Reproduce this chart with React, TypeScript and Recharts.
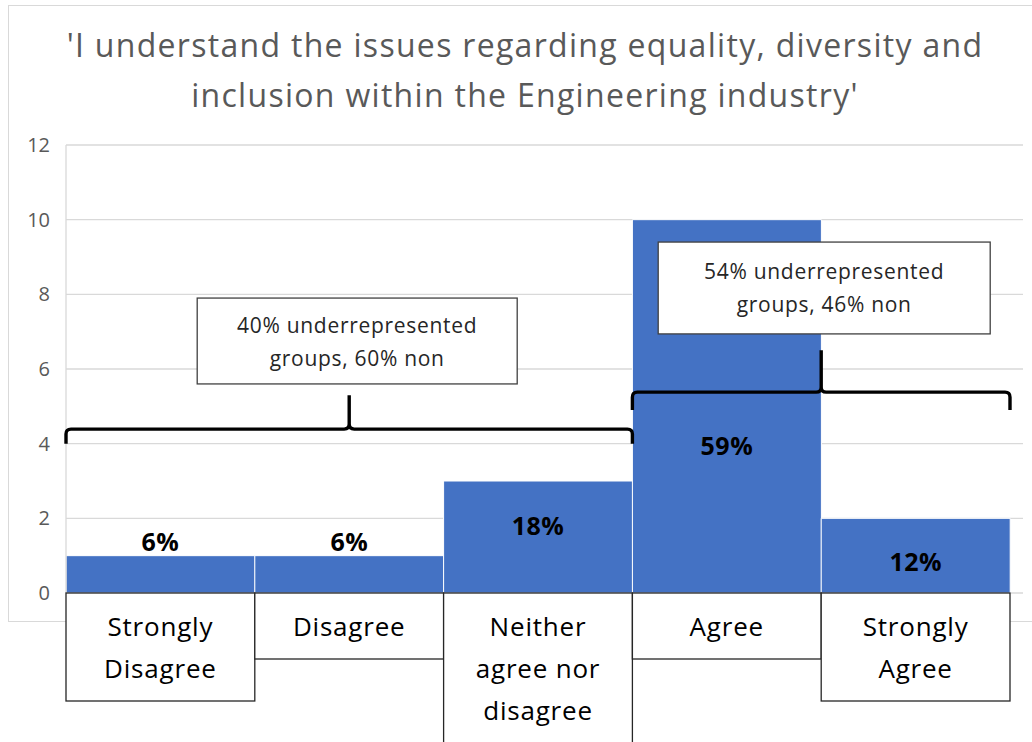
import React from 'react';
import { BarChart, Bar, XAxis, YAxis, CartesianGrid, ReferenceArea, LabelList } from 'recharts';

const categories = [
  'Strongly Disagree',
  'Disagree',
  'Neither agree nor disagree',
  'Agree',
  'Strongly Agree',
];
const categoryLines = [
  ['Strongly', 'Disagree'],
  ['Disagree'],
  ['Neither', 'agree nor', 'disagree'],
  ['Agree'],
  ['Strongly', 'Agree'],
];
const counts = [1, 1, 3, 10, 2];
const percentLabels = ['6%', '6%', '18%', '59%', '12%'];
const yTicks = [0, 2, 4, 6, 8, 10, 12];

const titleLines = [
  "'I understand the issues regarding equality, diversity and",
  "inclusion within the Engineering industry'",
];

const groupNotes = [
  ['40% underrepresented', 'groups, 60% non'],
  ['54% underrepresented', 'groups, 46% non'],
];
const groupFrom = ['Strongly Disagree', 'Agree'];
const groupTo = ['Neither agree nor disagree', 'Strongly Agree'];
// brace spans (value units): [low, high]
const braceLow = [4.0, 4.9];
const braceHigh = [5.3, 6.5];
// note boxes (value units)
const noteLow = [5.6, 6.94];
const noteHigh = [7.9, 9.4];

const data = categories.map((cat, i) => ({ cat, value: counts[i], label: percentLabels[i] }));

const FONT = "'Open Sans', 'Noto Sans', sans-serif";
const BAR_COLOR = '#4472C4';
const LABEL_DY = [-15, -15, 44, 225, 43];
const NOTE_W = [320, 332];
const NOTE_DX = [8, 3];

const Brace = (p: any) => {
  const { x, y, width, height } = p;
  const bottom = y + height;
  const hy = bottom - height * 0.3;
  const cx = x + width / 2;
  const r = 5;
  const d = [
    `M ${x} ${bottom}`,
    `L ${x} ${hy + r}`,
    `Q ${x} ${hy} ${x + r} ${hy}`,
    `L ${cx - r} ${hy}`,
    `Q ${cx} ${hy} ${cx} ${hy - r}`,
    `L ${cx} ${y}`,
    `M ${cx} ${hy - r}`,
    `Q ${cx} ${hy} ${cx + r} ${hy}`,
    `L ${x + width - r} ${hy}`,
    `Q ${x + width} ${hy} ${x + width} ${hy + r}`,
    `L ${x + width} ${bottom}`,
  ].join(' ');
  return <path d={d} fill="none" stroke="#000" strokeWidth={3.4} strokeLinejoin="round" />;
};

const makeNote = (idx: number) => (p: any) => {
  const { x, y, width, height } = p;
  const w = NOTE_W[idx];
  const cx = x + width / 2 + NOTE_DX[idx];
  const cy = y + height / 2;
  const lines = groupNotes[idx];
  return (
    <g>
      <rect x={cx - w / 2} y={y} width={w} height={height} fill="#fff" stroke="#404040" strokeWidth={1.3} />
      {lines.map((t, i) => (
        <text
          key={i}
          x={cx}
          y={cy + (i - (lines.length - 1) / 2) * 33}
          textAnchor="middle"
          dominantBaseline="central"
          fill="#262626"
          style={{ fontFamily: FONT, fontSize: 21, letterSpacing: 0.7 }}
        >
          {t}
        </text>
      ))}
    </g>
  );
};

const makeCatBox = (idx: number) => (p: any) => {
  const { x, y, width } = p;
  const lines = categoryLines[idx];
  const h = 24 + 42 * lines.length;
  return (
    <g>
      <rect x={x} y={y} width={width} height={h} fill="#fff" stroke="#262626" strokeWidth={1.3} />
      {lines.map((t, i) => (
        <text
          key={i}
          x={x + width / 2}
          y={y + 33 + 42 * i}
          textAnchor="middle"
          dominantBaseline="central"
          fill="#000"
          style={{ fontFamily: FONT, fontSize: 26, letterSpacing: 0.8 }}
        >
          {t}
        </text>
      ))}
    </g>
  );
};

const renderPct = (p: any) => {
  const { x, y, width, index, value } = p;
  return (
    <text
      x={x + width / 2}
      y={y + LABEL_DY[index]}
      textAnchor="middle"
      dominantBaseline="central"
      fill="#000"
      style={{ fontFamily: FONT, fontSize: 25, fontWeight: 700, letterSpacing: 0.5 }}
    >
      {value}
    </text>
  );
};

export default function App() {
  return (
    <div style={{ position: 'fixed', left: 0, top: 0, width: 1032, height: 742, overflow: 'hidden', background: '#fff' }}>
      <div
        style={{
          position: 'absolute',
          left: 8,
          top: 5,
          width: 1060,
          height: 617,
          border: '1px solid #d9d9d9',
          boxSizing: 'border-box',
        }}
      />
      <div
        style={{
          position: 'absolute',
          left: 0,
          top: 20,
          width: 1050,
          textAlign: 'center',
          fontFamily: FONT,
          fontSize: 32,
          lineHeight: '50px',
          color: '#595959',
          letterSpacing: 1.3,
          whiteSpace: 'nowrap',
        }}
      >
        {titleLines.map((t, i) => (
          <div key={i}>{t}</div>
        ))}
      </div>
      <div style={{ position: 'absolute', left: 0, top: 0 }}>
        <BarChart
          width={1032}
          height={742}
          data={data}
          margin={{ top: 145, right: 9, bottom: 149, left: 0 }}
          barCategoryGap={0}
          barGap={0}
        >
          <CartesianGrid horizontal vertical={false} stroke="#d9d9d9" strokeWidth={1.3} />
          <XAxis dataKey="cat" hide padding={{ left: 0, right: 13 }} />
          <YAxis
            domain={[0, 12]}
            ticks={yTicks}
            width={66}
            tickLine={false}
            tickSize={0}
            tickMargin={16}
            axisLine={{ stroke: '#d9d9d9', strokeWidth: 1.3 }}
            tick={{ fill: '#595959', fontSize: 20, fontFamily: FONT }}
            allowDataOverflow
          />
          <Bar dataKey="value" fill={BAR_COLOR} stroke="#ffffff" strokeWidth={1} isAnimationActive={false}>
            <LabelList dataKey="label" content={renderPct} />
          </Bar>
          {groupFrom.map((from, i) => (
            <ReferenceArea
              key={'brace' + i}
              x1={from}
              x2={groupTo[i]}
              y1={braceLow[i]}
              y2={braceHigh[i]}
              ifOverflow="visible"
              shape={Brace}
              zIndex={1000}
            />
          ))}
          {groupFrom.map((from, i) => (
            <ReferenceArea
              key={'note' + i}
              x1={from}
              x2={groupTo[i]}
              y1={noteLow[i]}
              y2={noteHigh[i]}
              ifOverflow="visible"
              shape={makeNote(i)}
              zIndex={1000}
            />
          ))}
          {categories.map((c, i) => (
            <ReferenceArea
              key={'cat' + i}
              x1={c}
              x2={c}
              y1={-0.5}
              y2={0}
              ifOverflow="visible"
              shape={makeCatBox(i)}
              zIndex={1000}
            />
          ))}
        </BarChart>
      </div>
    </div>
  );
}
